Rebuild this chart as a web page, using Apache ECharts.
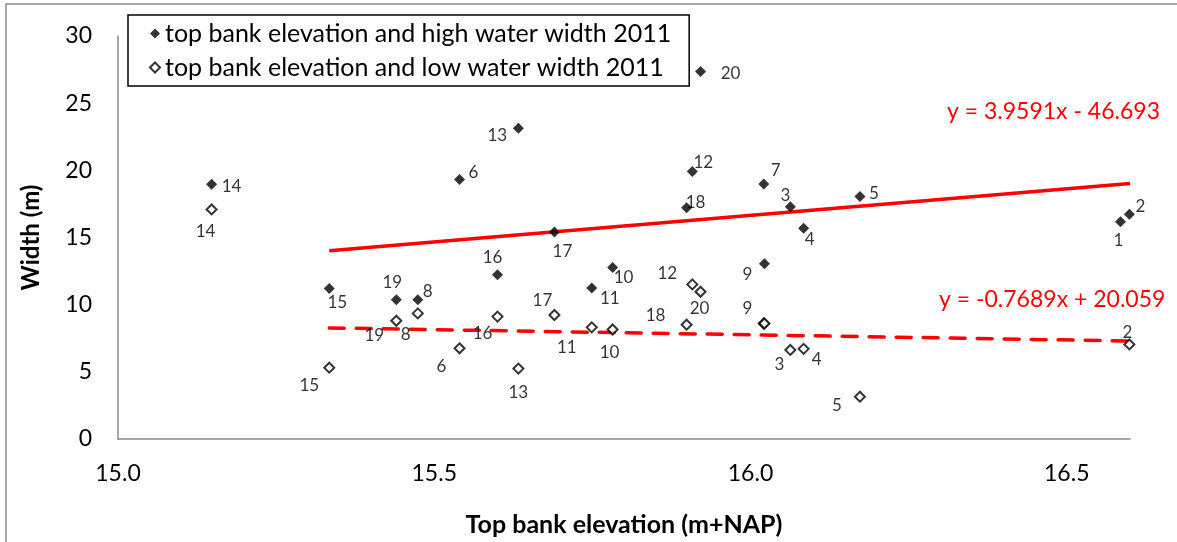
<!DOCTYPE html>
<html>
<head>
<meta charset="utf-8">
<script src="https://cdn.jsdelivr.net/npm/echarts@6/dist/echarts.min.js"></script>
<style>
  html, body { margin: 0; padding: 0; background: #fff; }
  #chart { width: 1177px; height: 542px; }
</style>
</head>
<body>
<div id="chart"></div>
<script>
// Cross-section numbers 1..20
const pointIds = ['1','2','3','4','5','6','7','8','9','10','11','12','13','14','15','16','17','18','19','20'];
// Top bank elevation (m+NAP) per cross-section
const elevation = [16.585, 16.599, 16.063, 16.084, 16.173, 15.540, 16.021, 15.474, 16.022, 15.782,
                   15.749, 15.908, 15.633, 15.148, 15.334, 15.600, 15.690, 15.899, 15.440, 15.921];
// High water width 2011 (m)
const highWidth = [16.17, 16.73, 17.28, 15.69, 18.05, 19.32, 18.98, 10.36, 13.05, 12.76,
                   11.25, 19.92, 23.14, 18.96, 11.20, 12.23, 15.41, 17.21, 10.36, 27.35];
// Low water width 2011 (m); section 1 has no low water value
const lowWidth = [null, 7.04, 6.63, 6.71, 3.15, 6.75, 8.60, 9.35, 8.60, 8.15,
                  8.31, 11.51, 5.24, 17.09, 5.31, 9.11, 9.23, 8.51, 8.80, 10.96];
// Linear trend lines: y = slope * x + intercept, fitted over this elevation span
const trendSlope = [3.9591, -0.7689];
const trendIntercept = [-46.693, 20.059];
const trendSpan = [15.334, 16.6];
const seriesNames = ['top bank elevation and high water width 2011', 'top bank elevation and low water width 2011'];
const xTicks = { min: 15, max: 16.6, step: 0.5 };
const yTicks = { min: 0, max: 30, step: 5 };

// Hand-placed label nudges (px, from marker centre), keyed by section number
const highLabelShift = {
  '1': [-2, 19], '2': [11, -8], '3': [-5, -11], '4': [6, 11], '5': [14, -3],
  '6': [14, -7], '7': [12, -14], '8': [10, -8], '9': [-17, 11], '10': [11, 10],
  '11': [18, 11], '12': [11, -9], '13': [-21, 7], '14': [20, 2], '15': [8, 14],
  '16': [-5, -17], '17': [8, 20], '18': [9, -5], '19': [-4, -17], '20': [30, 2]
};
const lowLabelShift = {
  '2': [-2, -12], '3': [-11, 15], '4': [13, 11], '5': [-23, 9], '6': [-18, 18],
  '8': [-12, 21], '9': [-17, -15], '10': [-3, 23], '11': [-25, 20], '12': [-25, -11],
  '13': [0, 24], '14': [-6, 22], '15': [-20, 18], '16': [-15, 17], '17': [-12, -14],
  '18': [-31, -9], '19': [-22, 15], '20': [-1, 17]
};

const FONT = 'Lato';

function points(values, shifts) {
  const out = [];
  values.forEach((v, i) => {
    if (v === null) return;
    const id = pointIds[i];
    const s = shifts[id];
    out.push({
      name: id,
      value: [elevation[i], v],
      label: s ? { show: true, offset: s } : { show: false }
    });
  });
  return out;
}

function trendData(k) {
  return trendSpan.map(x => [x, trendSlope[k] * x + trendIntercept[k]]);
}

function fmtEq(k) {
  const b = trendIntercept[k];
  return 'y = ' + trendSlope[k] + 'x ' + (b < 0 ? '- ' : '+ ') + Math.abs(b).toFixed(3);
}

const labelStyle = {
  position: 'inside',
  formatter: p => p.name,
  fontFamily: FONT,
  fontSize: 17,
  color: '#000'
};

const chart = echarts.init(document.getElementById('chart'), null, { renderer: 'canvas' });

chart.setOption({
  animation: false,
  backgroundColor: '#fff',
  textStyle: { fontFamily: FONT },
  grid: { left: 118, right: 47, top: 36, bottom: 90, containLabel: false },
  legend: {
    orient: 'vertical',
    left: 128,
    top: 15,
    data: seriesNames,
    borderColor: '#000',
    borderWidth: 1.5,
    borderRadius: 0,
    padding: [6, 18, 6, 21],
    itemGap: 9,
    itemWidth: 10,
    itemHeight: 10,
    textStyle: { fontFamily: FONT, fontSize: 25, color: '#000', padding: [0, 0, 0, 0] }
  },
  xAxis: {
    type: 'value',
    min: xTicks.min,
    max: xTicks.max,
    interval: xTicks.step,
    name: 'Top bank elevation (m+NAP)',
    nameLocation: 'middle',
    nameGap: 73,
    nameTextStyle: { fontFamily: FONT, fontSize: 25, fontWeight: 'bold', color: '#000' },
    axisLine: { show: true, onZero: false, lineStyle: { color: '#8a8a8a', width: 1.5 } },
    axisTick: { show: false },
    splitLine: { show: false },
    axisLabel: {
      showMaxLabel: false,
      margin: 23,
      fontFamily: FONT, fontSize: 23, color: '#000',
      formatter: v => v.toFixed(1)
    }
  },
  yAxis: {
    type: 'value',
    min: yTicks.min,
    max: yTicks.max,
    interval: yTicks.step,
    name: 'Width (m)',
    nameLocation: 'middle',
    nameGap: 75,
    nameTextStyle: { fontFamily: FONT, fontSize: 24, fontWeight: 'bold', color: '#000' },
    axisLine: { show: true, lineStyle: { color: '#8a8a8a', width: 1.5 } },
    axisTick: { show: false },
    splitLine: { show: false },
    axisLabel: { margin: 26, fontFamily: FONT, fontSize: 23, color: '#000' }
  },
  series: [
    {
      name: seriesNames[0],
      type: 'scatter',
      symbol: 'diamond',
      symbolSize: 11,
      itemStyle: { color: '#000' },
      label: labelStyle,
      data: points(highWidth, highLabelShift),
      z: 3
    },
    {
      name: seriesNames[1],
      type: 'scatter',
      symbol: 'diamond',
      symbolSize: 10,
      itemStyle: { color: '#fff', borderColor: '#000', borderWidth: 2 },
      label: labelStyle,
      data: points(lowWidth, lowLabelShift),
      z: 3
    },
    {
      name: 'trend high',
      type: 'line',
      data: trendData(0),
      symbol: 'none',
      lineStyle: { color: '#ff0000', width: 3.5 },
      silent: true,
      z: 2
    },
    {
      name: 'trend low',
      type: 'line',
      data: trendData(1),
      symbol: 'none',
      lineStyle: { color: '#ff0000', width: 3.5, type: [15, 12], cap: 'round' },
      silent: true,
      z: 2
    }
  ],
  graphic: [
    {
      type: 'rect',
      shape: { x: 6, y: 4, width: 1400, height: 800 },
      style: { fill: 'none', stroke: '#8a8a8a', lineWidth: 1.5 },
      silent: true,
      z: -10
    },
    {
      type: 'text',
      left: 947, top: 100,
      style: { text: fmtEq(0), fill: '#ff0000', font: '23px ' + FONT }
    },
    {
      type: 'text',
      left: 939, top: 288,
      style: { text: fmtEq(1), fill: '#ff0000', font: '23px ' + FONT }
    }
  ]
});
</script>
</body>
</html>
